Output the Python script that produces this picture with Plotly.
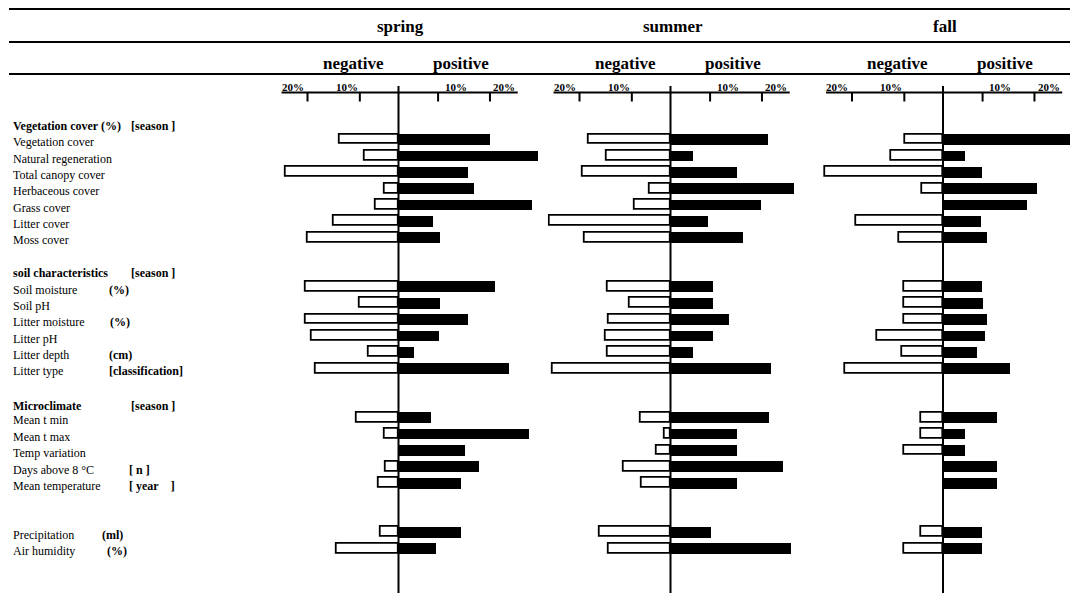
import plotly.graph_objects as go

# ---------------- data ----------------
rows = [
    "Vegetation cover (%)",
    "Vegetation cover", "Natural regeneration", "Total canopy cover", "Herbaceous cover",
    "Grass cover", "Litter cover", "Moss cover",
    " ",
    "soil characteristics",
    "Soil moisture", "Soil pH", "Litter moisture", "Litter pH", "Litter depth", "Litter type",
    "  ",
    "Microclimate",
    "Mean t min", "Mean t max", "Temp variation", "Days above 8 °C", "Mean temperature",
    "   ", "    ",
    "Precipitation", "Air humidity",
]
header_rows = ["Vegetation cover (%)", "soil characteristics", "Microclimate"]
data_rows = [
    "Vegetation cover", "Natural regeneration", "Total canopy cover", "Herbaceous cover",
    "Grass cover", "Litter cover", "Moss cover",
    "Soil moisture", "Soil pH", "Litter moisture", "Litter pH", "Litter depth", "Litter type",
    "Mean t min", "Mean t max", "Temp variation", "Days above 8 °C", "Mean temperature",
    "Precipitation", "Air humidity",
]
units = {
    "Vegetation cover (%)": ("[season ]", 131),
    "soil characteristics": ("[season ]", 131),
    "Microclimate": ("[season ]", 131),
    "Soil moisture": ("(%)", 109),
    "Litter moisture": ("(%)", 110),
    "Litter depth": ("(cm)", 109),
    "Litter type": ("[classification]", 109),
    "Days above 8 °C": ("[ n ]", 129),
    "Mean temperature": ("[ year\u00a0\u00a0\u00a0 ]", 129),
    "Precipitation": ("(ml)", 102),
    "Air humidity": ("(%)", 107),
}

seasons = ["spring", "summer", "fall"]
spring_neg = [13.0, 7.4, 24.8, 3.0, 5.0, 14.3, 20.0, 20.4, 8.6, 20.4, 19.1, 6.5, 18.2, 9.2, 3.0, 0, 2.8, 4.4, 3.9, 13.5]
spring_pos = [20.1, 30.5, 15.2, 16.5, 29.3, 7.6, 9.1, 21.1, 9.1, 15.2, 8.8, 3.3, 24.3, 7.1, 28.6, 14.6, 17.6, 13.6, 13.7, 8.2]
summer_neg = [18.1, 14.0, 19.2, 4.5, 7.8, 26.5, 18.8, 13.8, 8.9, 13.6, 14.2, 13.8, 25.9, 6.5, 1.3, 3.1, 10.2, 6.3, 15.6, 13.5]
summer_pos = [21.4, 4.9, 14.6, 27.0, 19.8, 8.2, 15.9, 9.3, 9.3, 12.8, 9.3, 4.9, 21.9, 21.6, 14.6, 14.6, 24.7, 14.5, 8.8, 26.3]
fall_neg = [8.4, 11.4, 25.9, 4.5, 0, 19.1, 9.7, 8.6, 8.6, 8.6, 14.4, 9.0, 21.4, 4.7, 4.7, 8.6, 0, 0, 4.7, 8.5]
fall_pos = [28.8, 4.8, 8.7, 20.8, 18.4, 8.4, 9.8, 8.6, 8.9, 9.6, 9.2, 7.4, 14.7, 11.8, 4.9, 4.9, 11.8, 11.8, 8.6, 8.6]

tick_vals = [-20, -8.5, 8.7, 20.1]
tick_text_pos = [-23.2, -11.4, 12.6, 23.2]
tick_text = ["20%", "10%", "10%", "20%"]

# ---------------- layout helpers ----------------
WIN_W, WIN_H = 1078, 593
OFF = 8                      # default page body margin
W, H = WIN_W - OFF, WIN_H - OFF
FONT = "Liberation Serif"
PPU = 4.55                   # pixels per axis unit
LEFT = -27
LABEL_SHIFT = -2
panel_axes = ["x", "x2", "x3"]
panel_zero_px = [398.5, 670.5, 943]
panel_right = [31.5, 29.5, 29.5]
neg_data = [spring_neg, summer_neg, fall_neg]
pos_data = [spring_pos, summer_pos, fall_pos]


def px(p):
    return (p - OFF) / W


def py(p):
    return 1 - (p - OFF) / H


fig = go.Figure()

for ax, neg, pos in zip(panel_axes, neg_data, pos_data):
    fig.add_trace(go.Bar(
        y=data_rows, x=[-v if v else None for v in neg], orientation="h",
        xaxis=ax, yaxis="y", width=0.6,
        marker=dict(color="white", line=dict(color="black", width=1.8)),
        showlegend=False, hoverinfo="skip",
    ))
    fig.add_trace(go.Bar(
        y=data_rows, x=[v if v else None for v in pos], orientation="h",
        xaxis=ax, yaxis="y", width=0.66,
        marker=dict(color="black", line=dict(color="black", width=0)),
        showlegend=False, hoverinfo="skip",
    ))

layout = dict(
    width=W, height=H, margin=dict(l=0, r=0, t=0, b=0),
    paper_bgcolor="white", plot_bgcolor="rgba(0,0,0,0)",
    barmode="overlay", bargap=0,
    font=dict(family=FONT, color="black", size=12),
    yaxis=dict(type="category", categoryorder="array", categoryarray=rows,
               range=[len(rows) - 0.5, -0.5],
               domain=[py(556.5), py(114.7)], visible=False, fixedrange=True),
)
shapes = []
annotations = []

for i, (ax, zero, right, season) in enumerate(zip(panel_axes, panel_zero_px, panel_right, seasons)):
    key = "xaxis" if i == 0 else f"xaxis{i + 1}"
    layout[key] = dict(domain=[px(zero + LEFT * PPU), px(zero + right * PPU)],
                       range=[LEFT, right], visible=False, anchor="y", fixedrange=True)
    # zero line
    shapes.append(dict(type="line", xref=ax, yref="paper", x0=0, x1=0, y0=0, y1=py(86),
                       line=dict(color="black", width=2)))
    # scale line
    shapes.append(dict(type="line", xref=ax, yref="paper", x0=-25.7, x1=26.2,
                       y0=py(92.6), y1=py(92.6), line=dict(color="black", width=2)))
    for tv in tick_vals:
        shapes.append(dict(type="line", xref=ax, yref="paper", x0=tv, x1=tv,
                           y0=py(92.6), y1=py(101.5), line=dict(color="black", width=2)))
    for tx, tt in zip(tick_text_pos, tick_text):
        annotations.append(dict(xref=ax, yref="paper", x=tx, y=py(87), text=f"<b>{tt}</b>",
                                showarrow=False, xanchor="center", yanchor="middle",
                                font=dict(family=FONT, size=11)))
    annotations.append(dict(xref=ax, yref="paper", x=0.5, y=py(27), text=f"<b>{season}</b>",
                            showarrow=False, xanchor="center", yanchor="middle",
                            font=dict(family=FONT, size=17)))
    annotations.append(dict(xref=ax, yref="paper", x=-9.9, y=py(63), text="<b>negative</b>",
                            showarrow=False, xanchor="center", yanchor="middle",
                            font=dict(family=FONT, size=17)))
    annotations.append(dict(xref=ax, yref="paper", x=13.7, y=py(63), text="<b>positive</b>",
                            showarrow=False, xanchor="center", yanchor="middle",
                            font=dict(family=FONT, size=17)))

# header rules
for yy in [9, 42, 74]:
    shapes.append(dict(type="line", xref="paper", yref="paper", x0=px(9), x1=1,
                       y0=py(yy), y1=py(yy), line=dict(color="black", width=2.2)))

# row labels
for r in rows:
    if not r.strip():
        continue
    txt = f"<b>{r}</b>" if r in header_rows else r
    ys = -5 if r == "Microclimate" else -3
    annotations.append(dict(xref="paper", yref="y", x=px(13 + LABEL_SHIFT), y=r, yshift=ys,
                            text=txt, showarrow=False, xanchor="left", yanchor="middle",
                            font=dict(family=FONT, size=12)))
    if r in units:
        ut, ux = units[r]
        annotations.append(dict(xref="paper", yref="y", x=px(ux + LABEL_SHIFT), y=r, yshift=ys,
                                text=f"<b>{ut}</b>", showarrow=False,
                                xanchor="left", yanchor="middle",
                                font=dict(family=FONT, size=12)))

layout["shapes"] = shapes
layout["annotations"] = annotations
fig.update_layout(**layout)

fig.write_html("out.html")
